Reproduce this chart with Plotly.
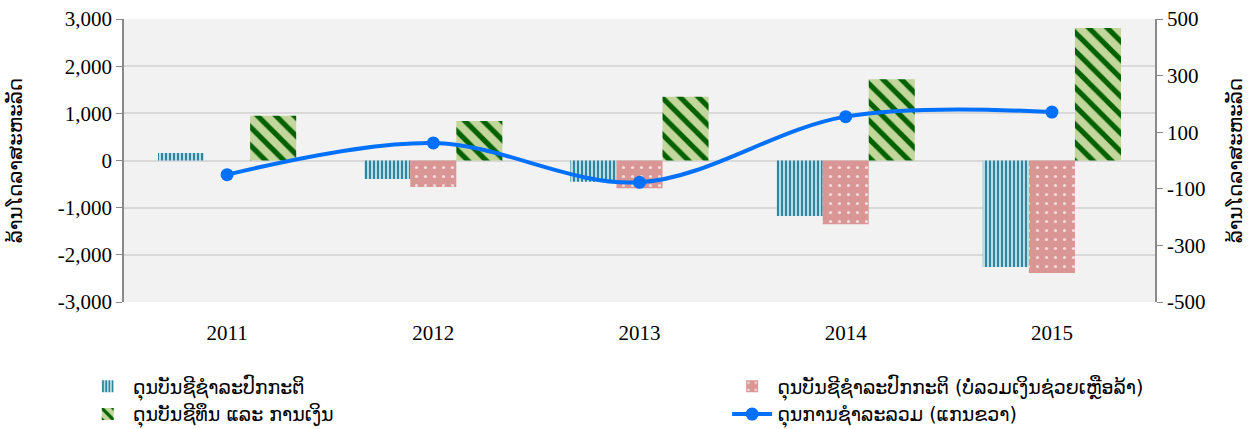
import plotly.graph_objects as go

years = ["2011", "2012", "2013", "2014", "2015"]
current_account = [160, -390, -450, -1175, -2260]
current_account_ex_grants = [None, -560, -590, -1350, -2385]
capital_financial = [950, 840, 1350, 1720, 2810]
overall_balance = [-50, 62, -77, 155, 171]

left_ticks = [-3000, -2000, -1000, 0, 1000, 2000, 3000]
right_ticks = [-500, -300, -100, 100, 300, 500]

name_ca = "ດຸນບັນຊີຊຳລະປົກກະຕິ"
name_ca_ex = "ດຸນບັນຊີຊຳລະປົກກະຕິ (ບໍ່ລວມເງິນຊ່ວຍເຫຼືອລ້າ)"
name_cf = "ດຸນບັນຊີທຶນ ແລະ ການເງິນ"
name_ob = "ດຸນການຊຳລະລວມ (ແກນຂວາ)"
axis_title = "ລ້ານໂດລາສະຫະລັດ"

FONT = "Liberation Serif, DejaVu Sans, serif"
LAO = "DejaVu Sans, Noto Sans, sans-serif"
AX = "#898989"

fig = go.Figure()
fig.add_trace(go.Bar(
    x=years, y=current_account, name=name_ca, legend="legend",
    marker=dict(color="#b7dde8", line=dict(width=0),
                pattern=dict(shape="|", fgcolor="#31859c", bgcolor="#b7dde8",
                             size=4, solidity=0.5, fillmode="replace")),
))
fig.add_trace(go.Bar(
    x=years, y=current_account_ex_grants, name=name_ca_ex, legend="legend2",
    marker=dict(color="#d99694", line=dict(width=0),
                pattern=dict(shape=".", fgcolor="#f2dcdb", bgcolor="#d99694",
                             size=9, solidity=0.1, fillmode="replace")),
))
fig.add_trace(go.Bar(
    x=years, y=capital_financial, name=name_cf, legend="legend",
    marker=dict(color="#c3d69b", line=dict(width=0),
                pattern=dict(shape="\\", fgcolor="#006100", bgcolor="#c3d69b",
                             size=13, solidity=0.4, fillmode="replace")),
))
fig.add_trace(go.Scatter(
    x=years, y=overall_balance, name=name_ob, yaxis="y2", legend="legend2",
    mode="lines+markers", line=dict(color="#0070ff", width=4, shape="spline", smoothing=1),
    marker=dict(size=13, color="#0070ff"),
))

fig.update_layout(
    width=1258, height=429,
    margin=dict(l=124, r=103, t=19, b=127, autoexpand=False),
    paper_bgcolor="white", plot_bgcolor="#f2f2f2",
    barmode="group", bargap=0.33, bargroupgap=0,
    font=dict(family=FONT, size=21, color="black"),
    xaxis=dict(type="category", showgrid=False, showline=False, zeroline=False,
               ticks="outside", ticklen=12, tickcolor="rgba(0,0,0,0)",
               tickfont=dict(family=FONT, size=21), automargin=False),
    xaxis2=dict(type="category", overlaying="x", anchor="free", position=0.5,
                categoryarray=years, categoryorder="array", range=[-0.5, 4.5],
                showline=True, linecolor=AX, linewidth=2, showgrid=False,
                ticks="outside", tickson="boundaries", ticklen=7, tickcolor=AX,
                tickwidth=1.5, showticklabels=False, zeroline=False),
    yaxis=dict(range=[-3000, 3000], tickvals=left_ticks,
               ticktext=[f"{v:,}" for v in left_ticks],
               showline=True, linecolor=AX, linewidth=1.5,
               ticks="outside", ticklen=6, tickcolor=AX,
               gridcolor="#d9d9d9", gridwidth=1.5, zeroline=False, automargin=False,
               title=dict(text=axis_title, font=dict(family=LAO, size=20), standoff=30),
               tickfont=dict(family=FONT, size=21)),
    yaxis2=dict(range=[-500, 500], tickvals=right_ticks,
                ticktext=[f"{v:,}" for v in right_ticks],
                overlaying="y", side="right",
                showline=True, linecolor=AX, linewidth=1.5,
                ticks="outside", ticklen=6, tickcolor=AX,
                showgrid=False, zeroline=False, automargin=False,
                title=dict(text=axis_title, font=dict(family=LAO, size=20), standoff=24),
                tickfont=dict(family=FONT, size=21)),
    legend=dict(x=-0.040, y=-0.2315, xanchor="left", yanchor="top",
                font=dict(family=LAO, size=19), bgcolor="rgba(0,0,0,0)",
                tracegroupgap=0, itemwidth=40),
    legend2=dict(x=0.585, y=-0.2315, xanchor="left", yanchor="top",
                 font=dict(family=LAO, size=19), bgcolor="rgba(0,0,0,0)",
                 tracegroupgap=0, itemwidth=40),
    showlegend=True,
)

fig.write_html("out.html", config={"displayModeBar": False},
               post_script="document.body.style.margin='0px';document.body.style.overflow='hidden';")
